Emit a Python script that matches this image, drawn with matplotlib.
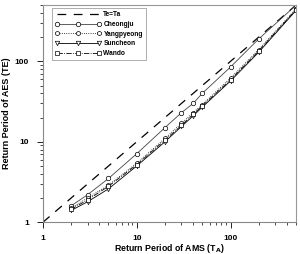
import matplotlib.pyplot as plt
import matplotlib.ticker as mticker

plt.rcParams['font.family'] = ['Liberation Sans', 'DejaVu Sans']
plt.rcParams['font.weight'] = 'bold'

# return period of AMS (T_A)
ta = [2, 3, 5, 10, 20, 30, 40, 50, 100, 200, 500]
# return period of AES (T_E) for each station
cheongju = [1.6, 2.2, 3.5, 7.1, 15, 23, 30, 40, 85, 190, 500]
yangpyeong = [1.5, 2.0, 2.9, 5.4, 11, 17, 23, 29, 62, 140, 450]
suncheon = [1.4, 1.8, 2.6, 5.0, 10, 15.5, 21, 27, 57, 130, 430]
wando = [1.45, 1.9, 2.8, 5.2, 10.5, 16, 22, 28, 59, 135, 440]
ref = [1, 500]

fig = plt.figure(figsize=(3.0, 2.54), dpi=100)
ax = fig.add_axes([0.143, 0.125, 0.844, 0.855])

lw = 0.6
ms = 3.2
ax.plot(ref, ref, color='k', lw=0.9, dashes=(7, 6), label='Te=Ta')
ax.plot(ta, cheongju, color='#444444', lw=lw, marker='o', ms=ms, mfc='white', mec='k', mew=0.5, label='Cheongju')
ax.plot(ta, yangpyeong, color='k', lw=lw, ls=':', marker='h', ms=ms, mfc='white', mew=0.5, label='Yangpyeong')
ax.plot(ta, suncheon, color='k', lw=lw, marker='v', ms=ms, mfc='white', mew=0.5, label='Suncheon')
ax.plot(ta, wando, color='k', lw=lw, ls='-.', marker='s', ms=ms, mfc='white', mew=0.5, label='Wando')

ax.set_xscale('log')
ax.set_yscale('log')
ax.set_xlim(1, 500)
ax.set_ylim(1, 500)

for a in (ax.xaxis, ax.yaxis):
    a.set_major_formatter(mticker.FuncFormatter(lambda v, p: '%d' % v))
    a.set_minor_formatter(mticker.NullFormatter())
ax.tick_params(which='major', direction='out', length=4, width=0.6, labelsize=6)
ax.tick_params(axis='x', which='major', pad=5)
ax.tick_params(axis='y', which='major', pad=6)
ax.tick_params(which='minor', direction='out', length=2.5, width=0.5)
ax.tick_params(top=False, right=False)

for s in ('top', 'right'):
    ax.spines[s].set_color('#999999')
for s in ('left', 'bottom'):
    ax.spines[s].set_color('#888888')
for s in ax.spines.values():
    s.set_linewidth(0.8)

ax.set_xlabel('Return Period of AMS (T$_\\mathbf{A}$)', fontsize=6.3, fontweight='bold', labelpad=0)
ax.set_ylabel('Return Period of AES (TE)', fontsize=6.5, fontweight='bold', labelpad=3)

leg = ax.legend(loc='upper left', bbox_to_anchor=(0.035, 0.985), fontsize=4.8, numpoints=3,
                frameon=True, fancybox=False, edgecolor='#888888', handlelength=7,
                handletextpad=0.3, borderpad=0.45, labelspacing=0.4, borderaxespad=0)
leg.get_frame().set_linewidth(0.6)

fig.savefig('out.png', dpi=100)
